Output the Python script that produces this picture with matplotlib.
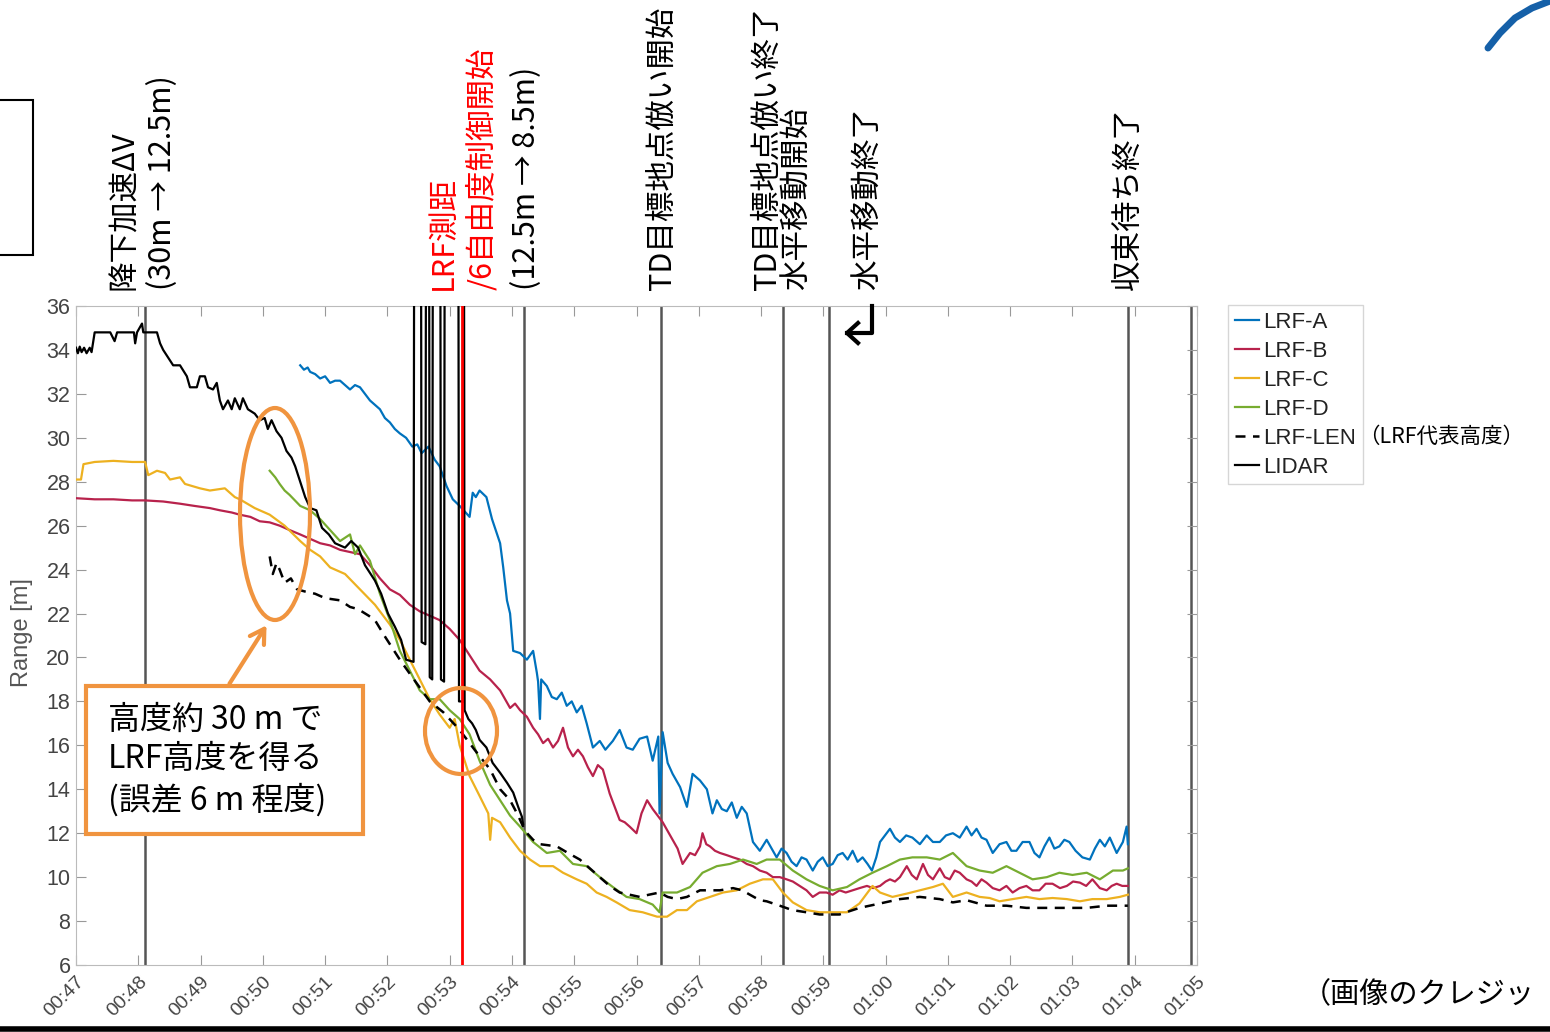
import matplotlib.pyplot as plt
from matplotlib.patches import Ellipse, Rectangle, FancyArrowPatch
from matplotlib.lines import Line2D
from matplotlib.ticker import FuncFormatter, MultipleLocator

# time in minutes (label shows mm:ss style "00:47"), range in metres
lidar_t = [47.00, 47.03, 47.06, 47.09, 47.13, 47.17, 47.22, 47.25, 47.30, 47.55, 47.62, 47.66,
           47.93, 47.95, 47.98, 48.06, 48.08, 48.30, 48.35, 48.40, 48.56, 48.67, 48.78, 48.83,
           48.94, 48.99, 49.07, 49.12, 49.20, 49.26, 49.31, 49.36, 49.44, 49.50, 49.55, 49.63,
           49.68, 49.76, 49.87, 49.95, 50.03, 50.08, 50.14, 50.22, 50.30, 50.38, 50.46, 50.52,
           50.60, 50.68, 50.76, 50.86, 50.95, 51.06, 51.16, 51.32, 51.42, 51.53, 51.64, 51.80,
           51.90, 52.01, 52.12, 52.22, 52.30, 52.42,
           52.43, 52.54, 52.55, 52.61, 52.62, 52.67, 52.68, 52.72, 52.73, 52.85, 52.86, 52.91,
           52.92, 53.14, 53.15, 53.22, 53.23,
           53.24, 53.30, 53.36, 53.42, 53.48, 53.59, 53.69, 53.81, 53.92, 54.02, 54.10, 54.16, 54.18]
lidar_v = [34.1, 33.85, 34.15, 33.9, 34.1, 33.85, 34.1, 33.9, 34.8, 34.8, 34.4, 34.8,
           34.8, 34.3, 34.8, 35.2, 34.8, 34.8, 34.3, 34.0, 33.3, 33.3, 32.8, 32.3,
           32.3, 32.8, 32.8, 32.3, 32.2, 32.5, 31.7, 31.3, 31.7, 31.3, 31.8, 31.3,
           31.8, 31.3, 31.1, 30.8, 30.9, 30.4, 30.8, 30.3, 30.0, 29.4, 29.1, 28.7,
           28.0, 27.3, 26.8, 26.7, 25.9, 25.6, 25.2, 25.0, 25.3, 25.0, 24.2, 23.5,
           22.9, 22.0, 21.4, 20.8, 19.9, 19.8,
           40, 40, 20.7, 20.6, 40, 40, 19.1, 19.0, 40, 40, 19.0, 18.9,
           40, 40, 18.0, 18.0, 40,
           17.6, 17.2, 17.0, 16.7, 16.25, 15.9, 15.2, 14.75, 14.3, 13.85, 13.2, 12.75, 12.4]

len_t = [50.11, 50.16, 50.22, 50.27, 50.35, 50.45, 50.55, 50.68, 50.84, 51.00, 51.24, 51.40,
         51.53, 51.70, 51.80, 51.95, 52.20, 52.40, 52.68, 52.90, 53.16, 53.40, 53.65, 53.81,
         53.97, 54.10, 54.21, 54.34, 54.45, 54.72, 54.90, 55.09, 55.25, 55.41, 55.57, 55.73,
         55.89, 56.05, 56.20, 56.37, 56.50, 56.65, 56.81, 57.02, 57.34, 57.55, 57.70, 57.82,
         57.98, 58.09, 58.30, 58.50, 58.73, 58.94, 59.15, 59.26, 59.58, 59.91, 60.23, 60.55,
         60.87, 61.08, 61.30, 61.62, 61.94, 62.26, 62.59, 62.91, 63.23, 63.55, 63.89]
len_v = [24.6, 23.8, 24.3, 24.0, 23.4, 23.6, 23.1, 23.0, 22.9, 22.7, 22.6, 22.3,
         22.2, 21.9, 21.7, 21.0, 19.9, 19.1, 18.0, 17.5, 16.7, 15.8, 14.9, 14.0,
         13.5, 12.8, 12.1, 11.7, 11.5, 11.4, 11.1, 10.8, 10.4, 10.0, 9.6, 9.3,
         9.2, 9.1, 9.2, 9.3, 9.1, 9.0, 9.1, 9.4, 9.4, 9.5, 9.4, 9.2,
         8.95, 8.9, 8.7, 8.5, 8.4, 8.3, 8.3, 8.3, 8.6, 8.8, 9.0, 9.1,
         9.0, 8.85, 8.95, 8.7, 8.7, 8.6, 8.6, 8.6, 8.6, 8.7, 8.7]

a_t = [50.60, 50.66, 50.72, 50.76, 50.84, 50.92, 51.00, 51.08, 51.16, 51.24, 51.32, 51.40,
       51.48, 51.56, 51.64, 51.72, 51.80, 51.88, 51.96, 52.04, 52.12, 52.20, 52.30, 52.40,
       52.48, 52.55, 52.66, 52.76, 52.84, 52.95, 53.05, 53.16, 53.32, 53.37, 53.42, 53.48,
       53.59, 53.68, 53.81, 53.86, 53.92, 53.97, 54.02, 54.13, 54.24, 54.34, 54.40, 54.42,
       54.45, 54.47, 54.56, 54.64, 54.72, 54.80, 54.88, 54.96, 55.04, 55.12, 55.20, 55.30,
       55.41, 55.50, 55.62, 55.73, 55.84, 55.94, 56.05, 56.17, 56.26, 56.35, 56.37, 56.42,
       56.50, 56.58, 56.70, 56.81, 56.90, 57.02, 57.13, 57.22, 57.29, 57.37, 57.45, 57.53,
       57.61, 57.69, 57.77, 57.87, 57.98, 58.09, 58.17, 58.25, 58.33, 58.41, 58.49, 58.57,
       58.65, 58.73, 58.83, 58.91, 58.99, 59.07, 59.15, 59.23, 59.31, 59.39, 59.47, 59.55,
       59.63, 59.71, 59.78, 59.85, 59.91, 59.99, 60.07, 60.15, 60.23, 60.33, 60.43, 60.55,
       60.66, 60.76, 60.87, 60.97, 61.08, 61.19, 61.30, 61.38, 61.46, 61.54, 61.62, 61.72,
       61.83, 61.94, 62.02, 62.10, 62.20, 62.31, 62.39, 62.47, 62.55, 62.63, 62.71, 62.79,
       62.87, 62.95, 63.05, 63.16, 63.28, 63.36, 63.44, 63.52, 63.60, 63.71, 63.81, 63.87, 63.89]
a_v = [33.3, 33.1, 33.2, 33.0, 32.9, 32.7, 32.8, 32.5, 32.6, 32.6, 32.4, 32.2,
       32.4, 32.3, 32.0, 31.7, 31.5, 31.3, 30.9, 30.7, 30.4, 30.2, 30.0, 29.6,
       29.7, 29.3, 29.6, 29.0, 28.7, 27.8, 27.2, 26.9, 26.4, 27.5, 27.3, 27.6,
       27.3, 26.3, 25.2, 24.1, 22.6, 22.0, 20.3, 20.2, 19.9, 20.3, 19.3, 18.9,
       17.2, 19.0, 18.7, 18.2, 18.1, 18.4, 17.8, 18.0, 17.5, 17.8, 17.0, 15.9,
       16.2, 15.8, 16.2, 16.7, 15.9, 15.8, 16.3, 16.4, 15.3, 16.4, 12.9, 16.6,
       15.2, 14.7, 14.1, 13.2, 14.7, 14.4, 14.0, 12.9, 13.5, 13.1, 13.0, 13.4,
       12.7, 13.2, 12.9, 11.6, 11.2, 11.7, 11.3, 10.9, 11.3, 11.1, 10.7, 10.5,
       10.9, 10.8, 10.3, 10.7, 10.9, 10.5, 10.6, 11.0, 11.1, 10.8, 11.2, 10.7,
       10.9, 10.6, 10.3, 10.9, 11.6, 11.9, 12.2, 11.8, 11.6, 11.9, 11.8, 11.5,
       11.9, 11.6, 11.6, 11.9, 12.0, 11.8, 12.3, 11.9, 12.2, 11.8, 11.7, 11.1,
       11.5, 11.6, 11.2, 11.2, 11.6, 11.6, 11.1, 10.9, 11.4, 11.8, 11.3, 11.4,
       11.7, 11.6, 11.2, 10.9, 10.8, 11.3, 11.7, 11.4, 11.8, 11.1, 11.6, 12.3, 11.5]

b_t = [47.00, 47.30, 47.60, 47.90, 48.11, 48.40, 48.67, 48.90, 49.15, 49.31, 49.50, 49.63,
       49.80, 49.95, 50.11, 50.27, 50.43, 50.60, 50.76, 50.92, 51.08, 51.24, 51.40, 51.56,
       51.72, 51.88, 52.04, 52.20, 52.36, 52.52, 52.68, 52.84, 53.00, 53.16, 53.32, 53.48,
       53.65, 53.81, 53.97, 54.05, 54.13, 54.24, 54.34, 54.42, 54.50, 54.58, 54.66, 54.74,
       54.82, 54.90, 54.98, 55.06, 55.14, 55.22, 55.30, 55.38, 55.46, 55.57, 55.65, 55.73,
       55.81, 55.89, 56.00, 56.08, 56.17, 56.26, 56.34, 56.42, 56.50, 56.58, 56.66, 56.74,
       56.86, 56.94, 57.02, 57.06, 57.12, 57.18, 57.26, 57.34, 57.45, 57.55, 57.66, 57.77,
       57.87, 57.98, 58.09, 58.19, 58.30, 58.41, 58.51, 58.62, 58.73, 58.83, 58.94, 59.05,
       59.15, 59.26, 59.36, 59.47, 59.58, 59.70, 59.80, 59.91, 60.00, 60.07, 60.15, 60.23,
       60.34, 60.42, 60.50, 60.60, 60.68, 60.76, 60.87, 60.95, 61.03, 61.11, 61.19, 61.30,
       61.38, 61.46, 61.54, 61.62, 61.72, 61.83, 61.94, 62.04, 62.15, 62.26, 62.36, 62.47,
       62.57, 62.68, 62.80, 62.91, 63.01, 63.12, 63.22, 63.32, 63.44, 63.55, 63.63, 63.71,
       63.80, 63.89]
b_v = [27.25, 27.2, 27.2, 27.15, 27.15, 27.1, 27.0, 26.9, 26.8, 26.7, 26.6, 26.5,
       26.4, 26.2, 26.15, 26.0, 25.8, 25.6, 25.4, 25.2, 25.1, 24.9, 24.8, 24.7,
       24.2, 23.6, 23.1, 22.85, 22.4, 22.1, 21.9, 21.7, 21.3, 20.8, 20.1, 19.4,
       19.0, 18.5, 17.7, 17.9, 17.6, 17.3, 16.8, 16.5, 16.1, 16.3, 15.9, 16.2,
       16.8, 15.9, 15.5, 15.8, 15.5, 15.0, 14.6, 15.1, 14.9, 13.8, 13.2, 12.6,
       12.5, 12.3, 12.0, 12.9, 13.5, 13.1, 12.8, 12.5, 12.1, 11.7, 11.3, 10.6,
       11.1, 11.0, 11.4, 12.0, 11.5, 11.4, 11.2, 11.1, 11.0, 10.9, 10.8, 10.6,
       10.5, 10.3, 10.2, 10.0, 10.0, 9.9, 9.8, 9.6, 9.4, 9.1, 9.3, 9.3,
       9.2, 9.4, 9.3, 9.4, 9.5, 9.6, 9.5, 9.6, 9.8, 9.9, 9.8, 10.0,
       10.5, 10.1, 9.9, 10.6, 10.1, 9.9, 10.4, 10.0, 9.9, 10.3, 10.2, 9.9,
       9.8, 9.6, 9.9, 9.75, 9.5, 9.4, 9.6, 9.3, 9.5, 9.6, 9.4, 9.4,
       9.7, 9.7, 9.5, 9.6, 9.8, 9.75, 9.6, 9.9, 9.5, 9.4, 9.6, 9.7,
       9.6, 9.6]

c_t = [47.00, 47.08, 47.12, 47.30, 47.60, 47.90, 48.11, 48.16, 48.30, 48.43, 48.51, 48.67,
       48.75, 48.99, 49.15, 49.39, 49.55, 49.63, 49.87, 50.11, 50.35, 50.60, 50.76, 50.92,
       51.08, 51.32, 51.56, 51.80, 52.04, 52.20, 52.36, 52.52, 52.68, 52.84, 53.00, 53.08,
       53.16, 53.32, 53.48, 53.62, 53.65, 53.68, 53.81, 53.97, 54.13, 54.29, 54.45, 54.66,
       54.82, 55.04, 55.20, 55.36, 55.52, 55.68, 55.89, 56.10, 56.33, 56.49, 56.65, 56.81,
       56.97, 57.18, 57.39, 57.61, 57.82, 58.03, 58.19, 58.35, 58.51, 58.73, 58.94, 59.15,
       59.38, 59.58, 59.79, 59.91, 60.11, 60.34, 60.55, 60.76, 60.92, 61.08, 61.30, 61.51,
       61.67, 61.83, 62.04, 62.26, 62.47, 62.68, 62.91, 63.12, 63.32, 63.55, 63.76, 63.89]
c_v = [28.1, 28.1, 28.8, 28.9, 28.95, 28.9, 28.9, 28.3, 28.5, 28.4, 28.1, 28.2,
       27.9, 27.7, 27.6, 27.7, 27.3, 27.2, 26.8, 26.5, 26.0, 25.3, 24.9, 24.6,
       24.1, 23.8, 23.1, 22.4, 21.5, 20.8, 19.9, 19.0, 18.1, 17.4, 16.8, 17.2,
       16.0, 14.6, 13.7, 12.9, 11.7, 12.7, 12.5, 11.8, 11.2, 10.8, 10.5, 10.5,
       10.2, 9.9, 9.7, 9.3, 9.1, 8.85, 8.5, 8.4, 8.2, 8.2, 8.5, 8.5,
       8.9, 9.1, 9.3, 9.4, 9.7, 9.9, 9.9, 9.3, 8.85, 8.5, 8.4, 8.4,
       8.4, 8.8, 9.6, 9.3, 9.1, 9.25, 9.4, 9.55, 9.7, 9.1, 9.3, 9.1,
       9.05, 8.9, 9.0, 9.1, 9.0, 9.05, 9.0, 8.9, 9.0, 9.0, 9.1, 9.2]

d_t = [50.11, 50.20, 50.27, 50.35, 50.43, 50.60, 50.76, 50.92, 51.08, 51.24, 51.40, 51.48,
       51.56, 51.72, 51.88, 52.04, 52.20, 52.36, 52.52, 52.68, 52.84, 53.00, 53.16, 53.32,
       53.48, 53.65, 53.81, 53.97, 54.13, 54.34, 54.56, 54.77, 54.98, 55.20, 55.41, 55.62,
       55.84, 56.05, 56.26, 56.37, 56.42, 56.65, 56.86, 57.06, 57.29, 57.50, 57.71, 57.93,
       58.09, 58.30, 58.51, 58.73, 58.94, 59.15, 59.38, 59.58, 59.79, 60.02, 60.23, 60.43,
       60.66, 60.87, 61.08, 61.30, 61.51, 61.72, 61.94, 62.15, 62.36, 62.59, 62.79, 63.00,
       63.23, 63.44, 63.65, 63.81, 63.89]
d_v = [28.5, 28.2, 27.9, 27.6, 27.4, 26.9, 26.7, 26.3, 25.8, 25.3, 25.6, 24.7,
       25.1, 24.4, 22.9, 21.7, 20.3, 19.4, 18.5, 18.1, 18.1, 17.6, 17.2, 16.5,
       15.3, 14.2, 13.5, 12.8, 12.3, 11.6, 11.1, 11.2, 10.6, 10.5, 10.0, 9.55,
       9.1, 9.0, 8.75, 8.4, 9.3, 9.3, 9.55, 10.2, 10.5, 10.6, 10.8, 10.6,
       10.8, 10.8, 10.3, 9.9, 9.6, 9.4, 9.55, 9.9, 10.2, 10.5, 10.8, 10.9,
       10.9, 10.8, 11.1, 10.5, 10.3, 10.2, 10.5, 10.2, 9.9, 10.0, 10.2, 10.1,
       10.2, 9.9, 10.3, 10.3, 10.4]

# event markers (minutes)
event_t = [48.11, 54.19, 56.39, 58.36, 59.09, 63.89, 64.90]
event_red_t = 53.20

W, H = 1550, 1032
fig = plt.figure(figsize=(15.5, 10.32), dpi=100)
plt.rcParams['font.family'] = ['Liberation Sans', 'Noto Sans CJK JP', 'DejaVu Sans']
JP = ['Noto Sans CJK JP', 'DejaVu Sans']


def fx(px):
    return px / W


def fy(py):
    return 1 - py / H


ax = fig.add_axes([fx(76), fy(965), (1197 - 76) / W, (965 - 306) / H])

for t in event_t:
    ax.axvline(t, color='#555555', lw=1.8, zorder=1)

ax.plot(a_t, a_v, color='#0072BD', lw=1.6, label='LRF-A', zorder=3)
ax.plot(b_t, b_v, color='#B8224C', lw=1.6, label='LRF-B', zorder=3)
ax.plot(c_t, c_v, color='#EDB120', lw=1.6, label='LRF-C', zorder=3)
ax.plot(d_t, d_v, color='#77AC30', lw=1.6, label='LRF-D', zorder=3)
ax.plot(len_t, len_v, color='black', lw=1.8, ls=(0, (4, 3)), label='LRF-LEN', zorder=4)
ax.plot(lidar_t, lidar_v, color='black', lw=1.6, label='LIDAR', zorder=4)
ax.axvline(event_red_t, color='red', lw=2, zorder=5)

ax.set_xlim(47, 65)
ax.set_ylim(6, 36)
ax.xaxis.set_major_locator(MultipleLocator(1))
ax.yaxis.set_major_locator(MultipleLocator(2))
ax.xaxis.set_major_formatter(FuncFormatter(lambda t, p: f"{int(round(t)) // 60:02d}:{int(round(t)) % 60:02d}"))
ax.tick_params(direction='in', length=7, color='#999999', labelcolor='#444444', top=True, right=True)
ax.tick_params(axis='y', labelsize=15.5, pad=4)
ax.tick_params(axis='x', labelsize=14, pad=6)
for lab in ax.get_xticklabels():
    lab.set_rotation(45)
    lab.set_ha('right')
    lab.set_rotation_mode('anchor')
for s in ax.spines.values():
    s.set_color('#bbbbbb')
fig.text(fx(22), fy(633), 'Range [m]', rotation=90, ha='center', va='center', fontsize=17, color='#555555')

leg = ax.legend(loc='upper left', bbox_to_anchor=(fx(1228), fy(305)), bbox_transform=fig.transFigure,
                fancybox=False, edgecolor='#cccccc', fontsize=16, handlelength=1.1, handletextpad=0.2,
                labelspacing=0.36, borderpad=0.3, borderaxespad=0)
for tx in leg.get_texts():
    tx.set_color('#222222')
fig.text(fx(1358), fy(437), '（LRF代表高度）', ha='left', va='center', fontsize=15.5, family=JP)

# event captions above the axes
cap = dict(rotation=90, ha='center', va='bottom', fontsize=22, family=JP)
fig.text(fx(125), fy(290), '降下加速ΔV', **cap)
fig.text(fx(163), fy(290), '(30m → 12.5m)', **cap)
fig.text(fx(443), fy(290), 'LRF測距', color='red', **cap)
fig.text(fx(482), fy(290), '/6自由度制御開始', color='red', **cap)
fig.text(fx(527), fy(290), '(12.5m → 8.5m)', **cap)
fig.text(fx(662), fy(290), 'TD目標地点倣い開始', **cap)
fig.text(fx(767), fy(290), 'TD目標地点倣い終了', **cap)
fig.text(fx(797), fy(290), '水平移動開始', **cap)
fig.text(fx(868), fy(290), '水平移動終了', **cap)
fig.text(fx(1128), fy(290), '収束待ち終了', **cap)

# bent arrow under 水平移動終了
for xs, ys in [([872, 872, 847], [306, 333, 333]), ([858, 847, 858], [323, 333, 343])]:
    fig.add_artist(Line2D([fx(v) for v in xs], [fy(v) for v in ys], color='black', lw=3))

# orange callouts
orange = '#F0943F'
fig.add_artist(Ellipse((fx(275), fy(514)), 70 / W, 212 / H, fill=False, ec=orange, lw=3))
fig.add_artist(Ellipse((fx(461), fy(731)), 72 / W, 86 / H, fill=False, ec=orange, lw=3))
fig.add_artist(FancyArrowPatch((fx(228), fy(686)), (fx(268), fy(623)), transform=fig.transFigure,
                               arrowstyle='->,head_length=10,head_width=6', color=orange, lw=3))
fig.add_artist(Rectangle((fx(86), fy(834)), (363 - 86) / W, (834 - 686) / H, transform=fig.transFigure,
                         fc='white', ec=orange, lw=3, zorder=6))
fig.text(fx(108), fy(760), '高度約 30 m で\nLRF高度を得る\n(誤差 6 m 程度)', ha='left', va='center',
         fontsize=23, linespacing=1.3, family=JP, zorder=7)

# page decorations
fig.add_artist(Rectangle((fx(-3), fy(255)), 36 / W, 155 / H, transform=fig.transFigure,
                         fill=False, ec='black', lw=1.5))
fig.add_artist(Line2D([fx(v) for v in [1488, 1500, 1515, 1532, 1550]],
                      [fy(v) for v in [48, 33, 18, 8, 1]], color='#1560A8', lw=5, solid_capstyle='round'))
fig.text(fx(1302), fy(995), '（画像のクレジッ', ha='left', va='center', fontsize=21, family=JP)
fig.add_artist(Line2D([0, 1], [fy(1029), fy(1029)], color='black', lw=4))

fig.savefig('out.png', dpi=100)
